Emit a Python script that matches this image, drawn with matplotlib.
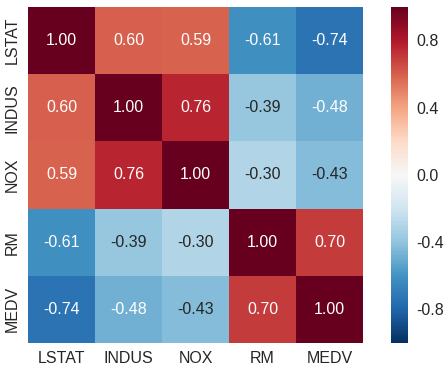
import numpy as np
import matplotlib
matplotlib.use("Agg")
import matplotlib.pyplot as plt
import seaborn as sns

# variables et matrice de correlation
cols = ["LSTAT", "INDUS", "NOX", "RM", "MEDV"]
row_lstat = [1.00, 0.60, 0.59, -0.61, -0.74]
row_indus = [0.60, 1.00, 0.76, -0.39, -0.48]
row_nox = [0.59, 0.76, 1.00, -0.30, -0.43]
row_rm = [-0.61, -0.39, -0.30, 1.00, 0.70]
row_medv = [-0.74, -0.48, -0.43, 0.70, 1.00]
cbar_ticks = [-0.8, -0.4, 0.0, 0.4, 0.8]

cm = np.array([row_lstat, row_indus, row_nox, row_rm, row_medv])

sns.set_theme(style="white")
plt.rcParams["font.family"] = ["Liberation Sans", "DejaVu Sans"]
plt.rcParams["text.color"] = "#262626"
plt.rcParams["xtick.color"] = "#262626"
plt.rcParams["ytick.color"] = "#262626"

fig = plt.figure(figsize=(4.48, 3.71), dpi=100)
ax = fig.add_axes([0.0625, 0.0755, 0.748, 0.906])
cax = fig.add_axes([0.873, 0.0755, 0.038, 0.906])

sns.heatmap(cm, ax=ax, cbar_ax=cax, cmap="RdBu_r", vmin=-1, vmax=1,
            annot=True, fmt=".2f", annot_kws={"size": 11.5},
            square=False, xticklabels=cols, yticklabels=cols)

ax.tick_params(axis="both", labelsize=11.5, length=0, pad=6)
ax.set_yticklabels(cols, rotation=90, va="center")
ax.set_xticklabels(cols, rotation=0)

cax.set_yticks(cbar_ticks)
cax.set_yticklabels(["%.1f" % t for t in cbar_ticks])
cax.tick_params(labelsize=11.5, length=0, pad=6)
for s in cax.spines.values():
    s.set_visible(False)

fig.savefig("out.png", dpi=100)
